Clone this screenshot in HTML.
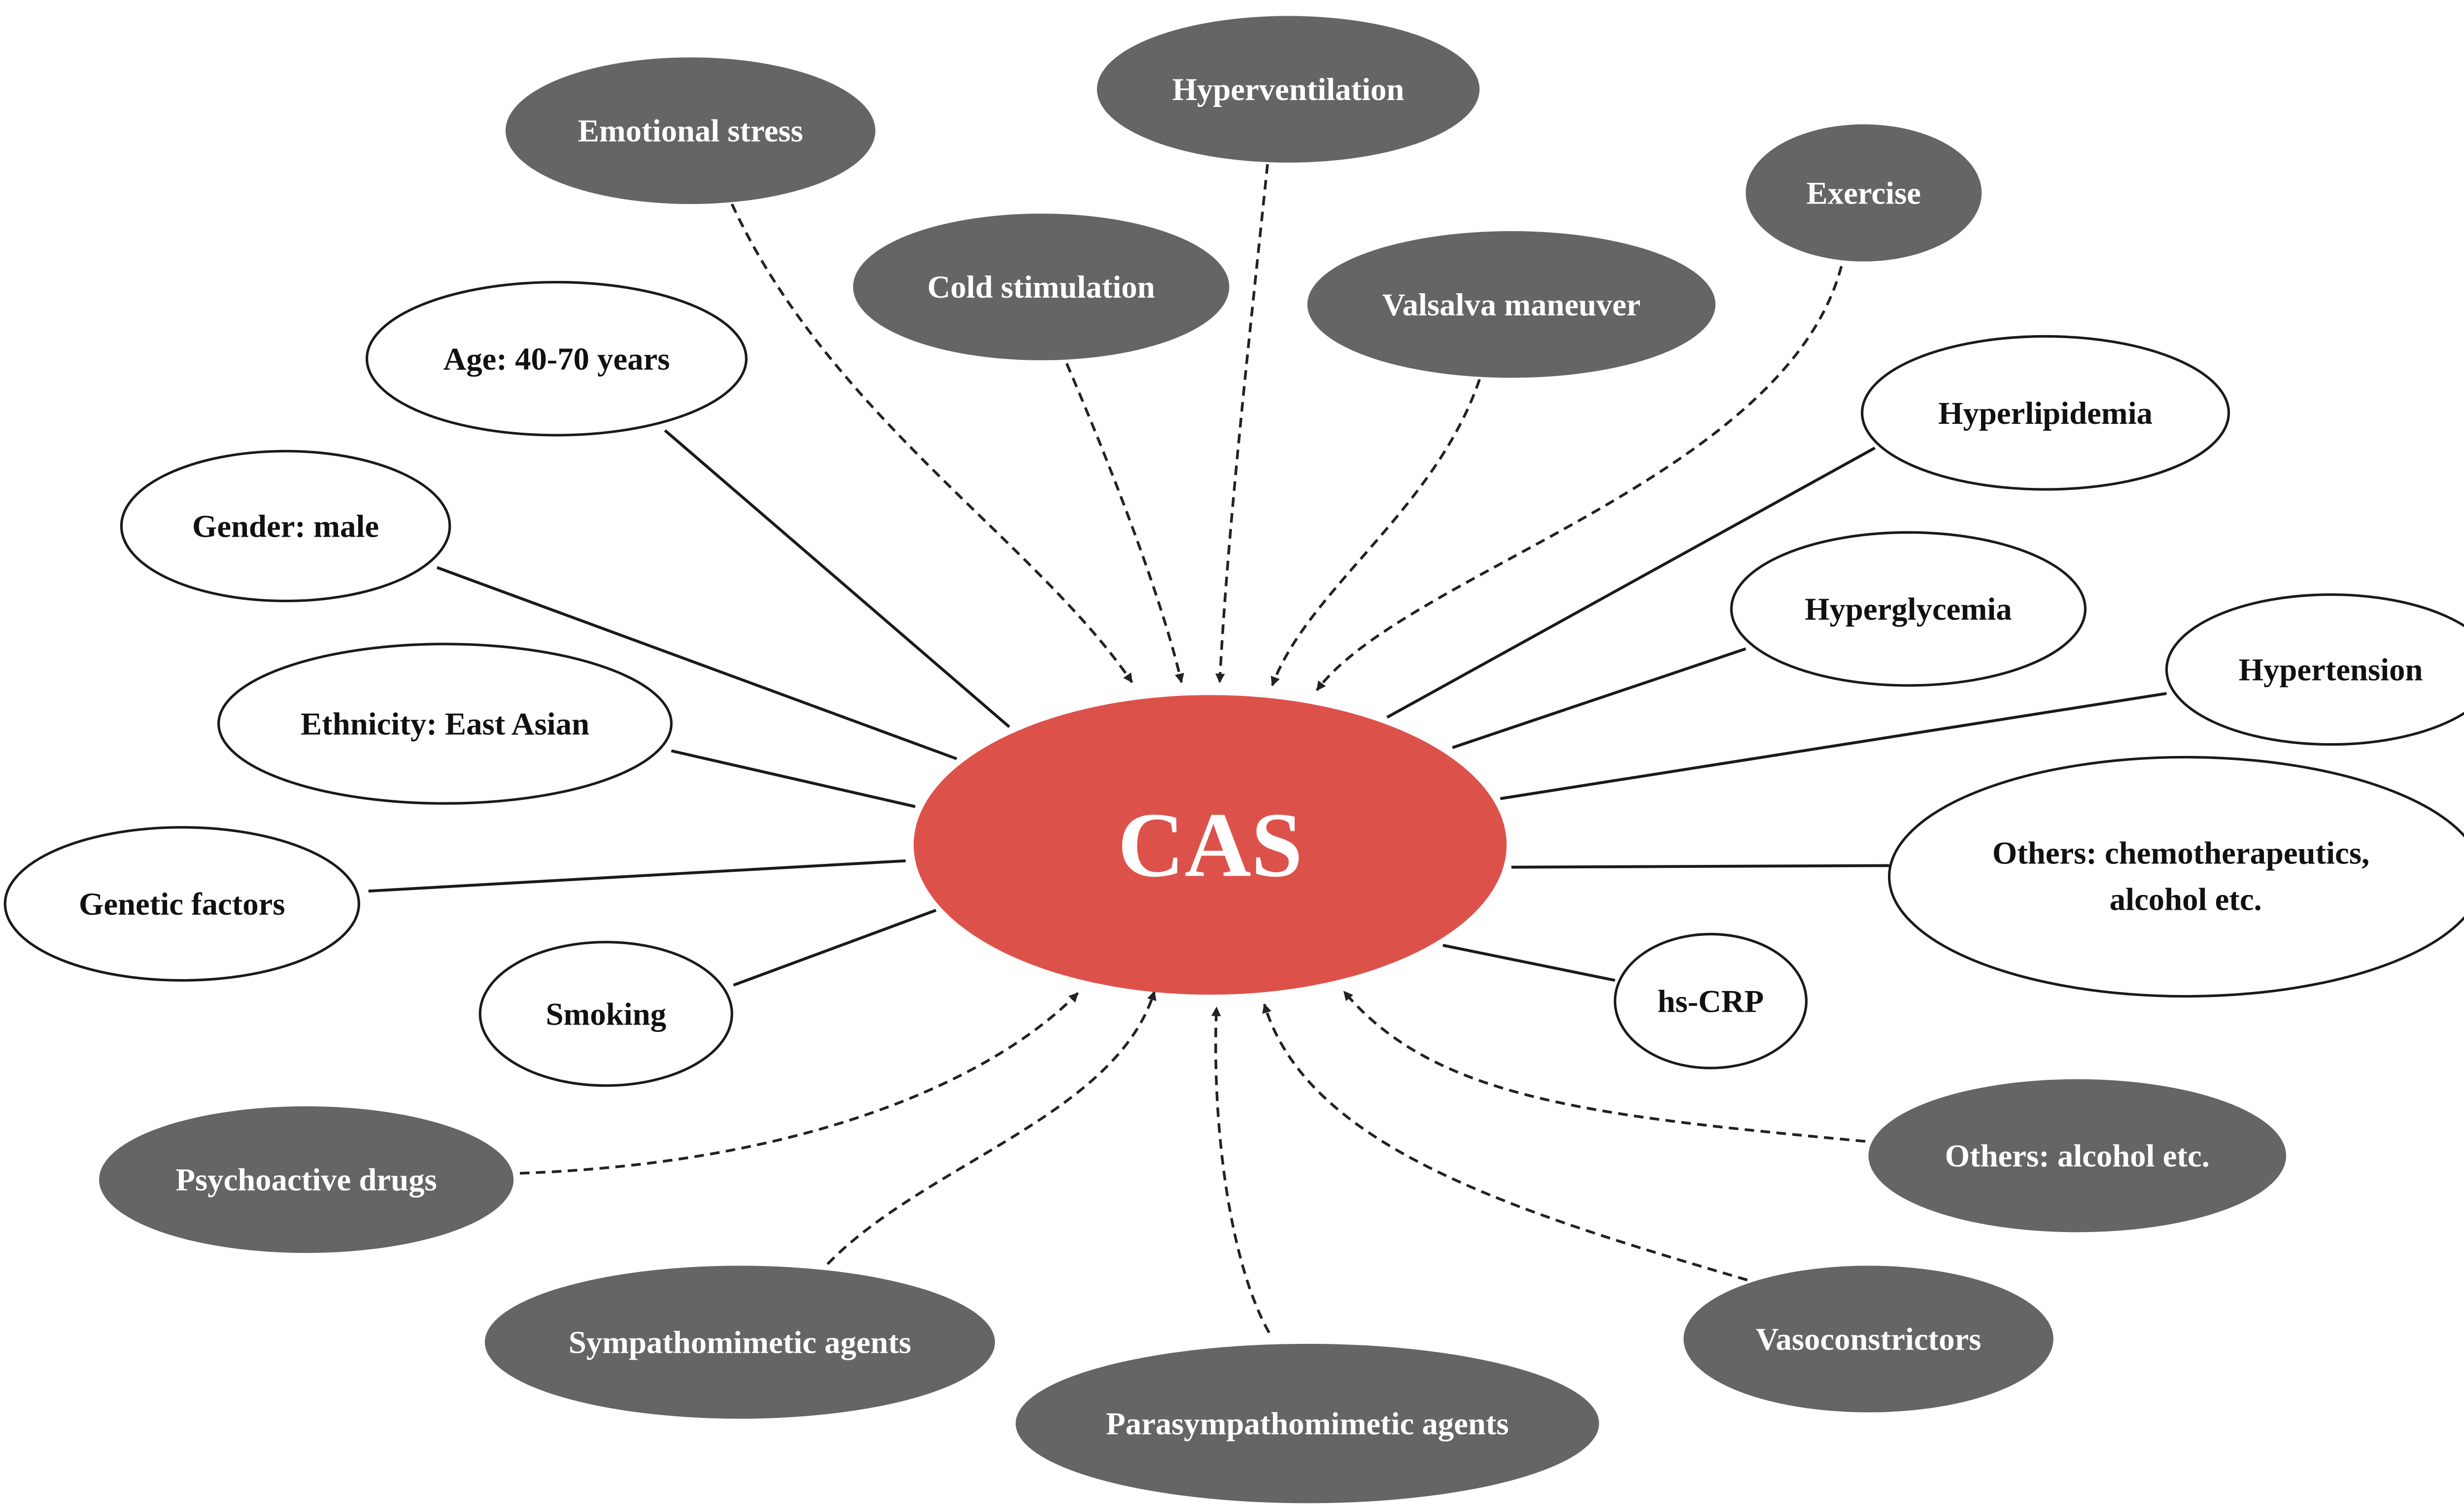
<!DOCTYPE html>
<html><head><meta charset="utf-8"><style>
html,body{margin:0;padding:0;background:#fff;}
svg{display:block;}
text{font-family:"Liberation Serif",serif;font-weight:bold;text-anchor:middle;dominant-baseline:central;}
.w{fill:#fff;stroke:#1a1a1a;stroke-width:1.6;}
.d{fill:#656565;stroke:none;}
.wt{fill:#111;font-size:20px;}
.dt{fill:#fff;font-size:20px;}
.s{stroke:#1a1a1a;stroke-width:1.8;fill:none;}
.ds{stroke:#222;stroke-width:1.7;fill:none;stroke-dasharray:6,4;marker-end:url(#a);}
</style></head><body>
<svg width="5073" height="3060" viewBox="0 0 1568 946" xmlns="http://www.w3.org/2000/svg">
<defs><marker id="a" viewBox="0 0 10 10" refX="9" refY="5" markerWidth="6" markerHeight="6" orient="auto" markerUnits="userSpaceOnUse"><path d="M0,0 L10,5 L0,10 z" fill="#222"/></marker></defs>
<rect width="1568" height="946" fill="#fff"/>
<!-- solid lines -->
<line class="s" x1="417" y1="270" x2="633" y2="456"/>
<line class="s" x1="274" y1="356" x2="600" y2="476"/>
<line class="s" x1="421" y1="471" x2="574" y2="506"/>
<line class="s" x1="231" y1="559" x2="568" y2="540"/>
<line class="s" x1="460" y1="618" x2="587" y2="571"/>
<line class="s" x1="1176" y1="281" x2="870" y2="450"/>
<line class="s" x1="1095" y1="407" x2="911" y2="469"/>
<line class="s" x1="1359" y1="435" x2="941" y2="501"/>
<line class="s" x1="1185" y1="543" x2="948" y2="544"/>
<line class="s" x1="1013" y1="615" x2="905" y2="593"/>
<!-- dashed -->
<path class="ds" d="M459,128 C520,260 650,340 710,428"/>
<path class="ds" d="M669,228 C700,300 730,380 741,428"/>
<path class="ds" d="M795,103 C785,200 770,330 765,428"/>
<path class="ds" d="M928,238 C900,320 820,370 798,430"/>
<path class="ds" d="M1155,167 C1120,300 880,360 826,433"/>
<path class="ds" d="M326,736 C500,730 620,680 676,623"/>
<path class="ds" d="M519,793 C580,730 700,700 724,622"/>
<path class="ds" d="M796,836 C770,790 760,700 763,632"/>
<path class="ds" d="M1096,803 C950,760 820,720 793,630"/>
<path class="ds" d="M1170,716 C1000,700 900,690 843,622"/>
<!-- CAS -->
<ellipse cx="759" cy="530" rx="186" ry="94" fill="#dc524b"/>
<text x="759" y="530" fill="#fff" style="font-size:58px">CAS</text>
<!-- dark -->
<ellipse class="d" cx="433" cy="82" rx="116" ry="46"/><text class="dt" x="433" y="82">Emotional stress</text>
<ellipse class="d" cx="808" cy="56" rx="120" ry="46"/><text class="dt" x="808" y="56">Hyperventilation</text>
<ellipse class="d" cx="653" cy="180" rx="118" ry="46"/><text class="dt" x="653" y="180">Cold stimulation</text>
<ellipse class="d" cx="948" cy="191" rx="128" ry="46"/><text class="dt" x="948" y="191">Valsalva maneuver</text>
<ellipse class="d" cx="1169" cy="121" rx="74" ry="43"/><text class="dt" x="1169" y="121">Exercise</text>
<ellipse class="d" cx="1303" cy="725" rx="131" ry="48"/><text class="dt" x="1303" y="725">Others: alcohol etc.</text>
<ellipse class="d" cx="1172" cy="840" rx="116" ry="46"/><text class="dt" x="1172" y="840">Vasoconstrictors</text>
<ellipse class="d" cx="820" cy="893" rx="183" ry="50"/><text class="dt" x="820" y="893">Parasympathomimetic agents</text>
<ellipse class="d" cx="464" cy="842" rx="160" ry="48"/><text class="dt" x="464" y="842">Sympathomimetic agents</text>
<ellipse class="d" cx="192" cy="740" rx="130" ry="46"/><text class="dt" x="192" y="740">Psychoactive drugs</text>
<!-- white -->
<ellipse class="w" cx="349" cy="225" rx="119" ry="48"/><text class="wt" x="349" y="225">Age: 40-70 years</text>
<ellipse class="w" cx="179" cy="330" rx="103" ry="47"/><text class="wt" x="179" y="330">Gender: male</text>
<ellipse class="w" cx="279" cy="454" rx="142" ry="50"/><text class="wt" x="279" y="454">Ethnicity: East Asian</text>
<ellipse class="w" cx="114" cy="567" rx="111" ry="48"/><text class="wt" x="114" y="567">Genetic factors</text>
<ellipse class="w" cx="380" cy="636" rx="79" ry="45"/><text class="wt" x="380" y="636">Smoking</text>
<ellipse class="w" cx="1283" cy="259" rx="115" ry="48"/><text class="wt" x="1283" y="259">Hyperlipidemia</text>
<ellipse class="w" cx="1197" cy="382" rx="111" ry="48"/><text class="wt" x="1197" y="382">Hyperglycemia</text>
<ellipse class="w" cx="1462" cy="420" rx="103" ry="47"/><text class="wt" x="1462" y="420">Hypertension</text>
<ellipse class="w" cx="1371" cy="550" rx="186" ry="75"/><text class="wt" x="1368" y="535">Others: chemotherapeutics,</text><text class="wt" x="1371" y="564">alcohol etc.</text>
<ellipse class="w" cx="1073" cy="628" rx="60" ry="42"/><text class="wt" x="1073" y="628">hs-CRP</text>
</svg>
</body></html>
